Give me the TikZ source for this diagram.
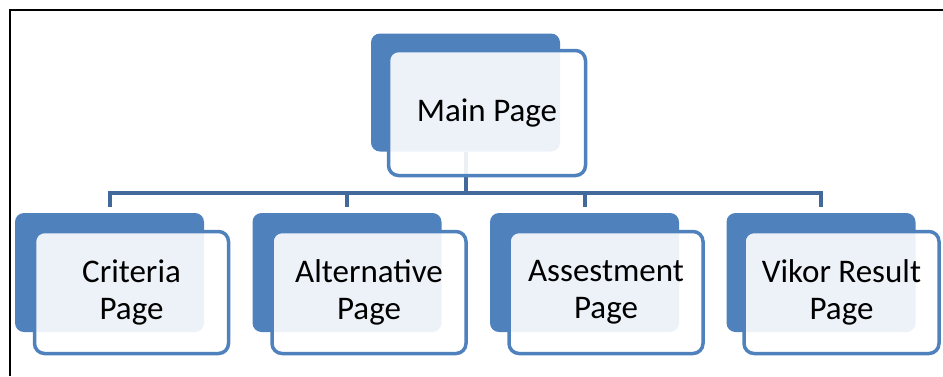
\documentclass[tikz,border=0pt]{standalone}
\usepackage{fontspec}
\setmainfont{Carlito}
\definecolor{backblue}{HTML}{4F81BD}
\definecolor{connblue}{HTML}{41699B}
\begin{document}
\begin{tikzpicture}[x=1pt,y=-1pt,
  backbox/.style={fill=backblue, rounded corners=9pt, inner sep=0pt, outer sep=0pt,
    minimum width=189pt, minimum height=119pt},
  frontbox/.style={draw=backblue, line width=3.5pt, fill=white, fill opacity=0.9, text opacity=1,
    rounded corners=10pt, inner sep=0pt, outer sep=0pt, align=center,
    minimum width=194pt, minimum height=122pt,
    font=\fontsize{33}{37}\selectfont},
  conn/.style={draw=connblue, line width=4pt}
]
\useasboundingbox (0,0) rectangle (943,376);
% frame
\draw[line width=1.6pt] (10,376) -- (10,10) -- (943,10);
% back boxes
\node[backbox, minimum height=118pt] (mainB) at (465.5,92.5) {};
\node[backbox] (critB) at (109.5,272.5) {};
\node[backbox] (altB) at (347,272.5) {};
\node[backbox] (assB) at (584.5,272.5) {};
\node[backbox] (vikB) at (821,272.5) {};
% connectors
\coordinate (hub) at (465.5,193);
\draw[conn] (mainB.south) -- (hub);
\draw[conn, shorten >=6pt] (hub) -| (critB.north);
\draw[conn, shorten >=6pt] (hub) -| (altB.north);
\draw[conn, shorten >=6pt] (hub) -| (assB.north);
\draw[conn, shorten >=6pt] (hub) -| (vikB.north);
% front boxes
\node[frontbox, minimum width=197pt, minimum height=125pt] (main) at (487,113) {Main Page};
\node[frontbox] (crit) at (131.5,292.5) {Criteria\\Page};
\node[frontbox] (alt) at (369,292.5) {Alternative\\Page};
\node[frontbox] (ass) at (606,292.5) {Assestment\\Page};
\node[frontbox, minimum width=195pt] (vik) at (841.5,292.5) {Vikor Result\\Page};
\end{tikzpicture}
\end{document}
